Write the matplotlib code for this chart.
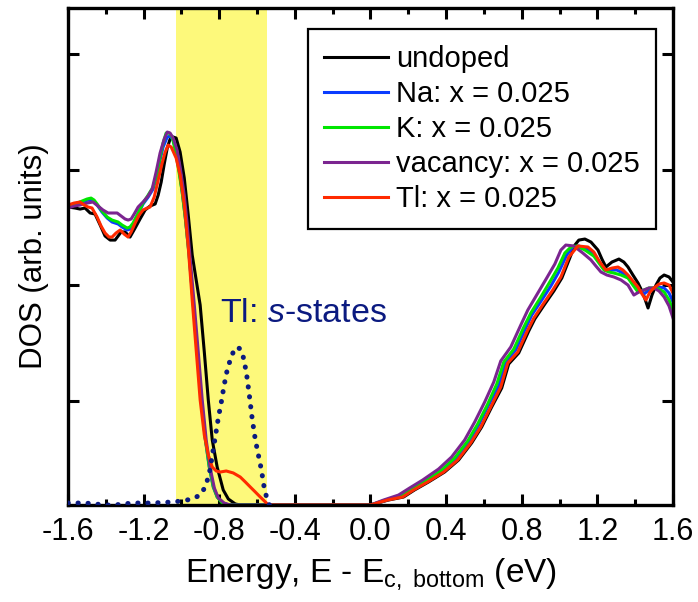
import numpy as np
import matplotlib
matplotlib.use("Agg")
import matplotlib.pyplot as plt
from matplotlib.ticker import MultipleLocator

plt.rcParams['font.family'] = ['Liberation Sans', 'DejaVu Sans']
plt.rcParams['mathtext.fontset'] = 'custom'
plt.rcParams['mathtext.rm'] = 'Liberation Sans'
plt.rcParams['mathtext.it'] = 'Liberation Sans:italic'

# valence band edge + conduction band, energy relative to E_c,bottom (eV)
e_undoped = [-1.600, -1.563, -1.536, -1.510, -1.483, -1.457, -1.430, -1.404, -1.377, -1.351,
             -1.335, -1.319, -1.298, -1.272, -1.245, -1.219, -1.192, -1.166, -1.139, -1.123,
             -1.107, -1.091, -1.075, -1.060, -1.044, -1.028, -1.007, -0.985, -0.964, -0.943,
             -0.922, -0.901, -0.879, -0.858, -0.837, -0.811, -0.779, -0.752, -0.715, -0.689,
             0.000, 0.095, 0.175, 0.233, 0.307, 0.392, 0.466, 0.535, 0.588, 0.641,
             0.694, 0.731, 0.784, 0.837, 0.869, 0.922, 0.970, 1.012, 1.054, 1.081,
             1.102, 1.134, 1.166, 1.203, 1.224, 1.245, 1.277, 1.314, 1.340, 1.362,
             1.388, 1.415, 1.441, 1.468, 1.489, 1.510, 1.531, 1.553, 1.579, 1.600]
dos_undoped = [2.576, 2.567, 2.558, 2.567, 2.524, 2.515, 2.420, 2.325, 2.290, 2.290,
               2.325, 2.360, 2.360, 2.316, 2.394, 2.472, 2.550, 2.584, 2.602, 2.679,
               2.792, 2.947, 3.086, 3.163, 3.181, 3.172, 3.051, 2.826, 2.506, 2.161,
               1.945, 1.729, 1.322, 0.908, 0.562, 0.328, 0.130, 0.052, 0.009, 0.000,
               0.000, 0.043, 0.069, 0.130, 0.199, 0.285, 0.389, 0.536, 0.674, 0.847,
               1.011, 1.219, 1.314, 1.504, 1.608, 1.737, 1.850, 1.962, 2.135, 2.247,
               2.290, 2.299, 2.273, 2.204, 2.126, 2.057, 2.100, 2.126, 2.100, 2.057,
               1.988, 1.919, 1.832, 1.703, 1.815, 1.901, 1.962, 1.988, 1.971, 1.927]

e_na = [-1.600, -1.563, -1.526, -1.494, -1.468, -1.446, -1.420, -1.393, -1.367, -1.335,
        -1.314, -1.287, -1.272, -1.250, -1.224, -1.203, -1.176, -1.150, -1.128, -1.113,
        -1.097, -1.075, -1.060, -1.044, -1.028, -1.012, -0.996, -0.980, -0.959, -0.938,
        -0.917, -0.895, -0.874, -0.853, -0.832, -0.811, -0.779, -0.747,
        0.000, 0.085, 0.164, 0.223, 0.297, 0.381, 0.450, 0.519, 0.572, 0.625,
        0.678, 0.715, 0.768, 0.821, 0.853, 0.906, 0.954, 0.996, 1.038, 1.070,
        1.102, 1.144, 1.181, 1.213, 1.240, 1.272, 1.303, 1.335, 1.362, 1.388,
        1.415, 1.446, 1.473, 1.499, 1.526, 1.553, 1.579, 1.600]
dos_na = [2.576, 2.593, 2.619, 2.636, 2.627, 2.593, 2.532, 2.481, 2.446, 2.429,
          2.403, 2.377, 2.385, 2.437, 2.532, 2.602, 2.662, 2.731, 2.852, 2.982,
          3.094, 3.181, 3.189, 3.155, 3.051, 2.895, 2.705, 2.489, 2.152, 1.746,
          1.331, 0.916, 0.570, 0.328, 0.156, 0.069, 0.017, 0.000,
          0.000, 0.043, 0.078, 0.130, 0.207, 0.294, 0.398, 0.545, 0.691, 0.864,
          1.029, 1.236, 1.340, 1.530, 1.642, 1.772, 1.893, 2.014, 2.161, 2.230,
          2.239, 2.213, 2.169, 2.092, 2.031, 2.031, 2.031, 2.005, 1.971, 1.919,
          1.858, 1.824, 1.858, 1.876, 1.884, 1.876, 1.832, 1.755]

e_k = [-1.600, -1.563, -1.526, -1.499, -1.478, -1.462, -1.446, -1.420, -1.393, -1.367,
       -1.335, -1.314, -1.287, -1.272, -1.256, -1.229, -1.203, -1.176, -1.150, -1.128,
       -1.113, -1.097, -1.081, -1.065, -1.049, -1.033, -1.017, -0.996, -0.980, -0.959,
       -0.938, -0.917, -0.895, -0.874, -0.853, -0.832, -0.811, -0.784, -0.752,
       0.000, 0.080, 0.159, 0.217, 0.291, 0.376, 0.445, 0.514, 0.567, 0.620,
       0.668, 0.705, 0.758, 0.811, 0.848, 0.901, 0.948, 0.991, 1.028, 1.060,
       1.091, 1.134, 1.181, 1.208, 1.235, 1.261, 1.287, 1.325, 1.362, 1.388,
       1.415, 1.446, 1.473, 1.499, 1.526, 1.553, 1.579, 1.600]
dos_k = [2.584, 2.602, 2.627, 2.645, 2.653, 2.636, 2.602, 2.541, 2.489, 2.463,
         2.446, 2.420, 2.394, 2.403, 2.437, 2.524, 2.610, 2.679, 2.749, 2.878,
         3.008, 3.129, 3.215, 3.215, 3.181, 3.068, 2.921, 2.705, 2.489, 2.161,
         1.755, 1.340, 0.925, 0.579, 0.337, 0.164, 0.069, 0.017, 0.000,
         0.000, 0.043, 0.078, 0.138, 0.207, 0.303, 0.406, 0.553, 0.700, 0.873,
         1.046, 1.236, 1.348, 1.538, 1.659, 1.798, 1.927, 2.048, 2.178, 2.230,
         2.239, 2.204, 2.152, 2.092, 2.031, 2.014, 2.005, 1.988, 1.962, 1.901,
         1.841, 1.858, 1.876, 1.876, 1.867, 1.841, 1.772, 1.685]

e_vac = [-1.600, -1.568, -1.536, -1.499, -1.468, -1.441, -1.415, -1.388, -1.362, -1.340,
         -1.319, -1.298, -1.282, -1.266, -1.250, -1.229, -1.203, -1.176, -1.155, -1.134,
         -1.113, -1.091, -1.075, -1.060, -1.044, -1.023, -1.007, -0.985, -0.970, -0.954,
         -0.932, -0.911, -0.890, -0.869, -0.848, -0.826, -0.805, -0.774, -0.742,
         0.000, 0.069, 0.148, 0.207, 0.276, 0.360, 0.429, 0.498, 0.551, 0.604,
         0.652, 0.689, 0.742, 0.795, 0.832, 0.885, 0.932, 0.975, 1.007, 1.033,
         1.075, 1.123, 1.166, 1.192, 1.219, 1.250, 1.287, 1.325, 1.362, 1.393,
         1.420, 1.446, 1.473, 1.499, 1.526, 1.553, 1.579, 1.600]
dos_vac = [2.567, 2.584, 2.593, 2.610, 2.619, 2.584, 2.550, 2.524, 2.524, 2.524,
           2.498, 2.472, 2.463, 2.472, 2.515, 2.576, 2.619, 2.671, 2.731, 2.878,
           3.042, 3.163, 3.224, 3.215, 3.172, 3.068, 2.921, 2.679, 2.437, 2.135,
           1.729, 1.322, 0.908, 0.562, 0.320, 0.147, 0.061, 0.017, 0.000,
           0.000, 0.043, 0.086, 0.147, 0.216, 0.311, 0.415, 0.562, 0.717, 0.890,
           1.063, 1.245, 1.366, 1.556, 1.685, 1.832, 1.962, 2.083, 2.204, 2.247,
           2.239, 2.178, 2.118, 2.066, 2.014, 1.988, 1.971, 1.945, 1.901, 1.815,
           1.841, 1.858, 1.876, 1.876, 1.850, 1.798, 1.720, 1.616]

e_tl = [-1.600, -1.568, -1.536, -1.515, -1.494, -1.473, -1.446, -1.425, -1.404, -1.383,
        -1.367, -1.346, -1.324, -1.303, -1.282, -1.266, -1.245, -1.224, -1.203, -1.181,
        -1.166, -1.144, -1.123, -1.102, -1.086, -1.070, -1.054, -1.028, -1.007, -0.985,
        -0.964, -0.943, -0.922, -0.901, -0.879, -0.858, -0.837, -0.816, -0.795, -0.763,
        -0.726, -0.689, -0.662, -0.636, -0.609, -0.583, -0.556, -0.540,
        0.000, 0.090, 0.170, 0.228, 0.302, 0.387, 0.461, 0.530, 0.583, 0.636,
        0.689, 0.726, 0.779, 0.832, 0.864, 0.917, 0.964, 1.007, 1.049, 1.097,
        1.150, 1.181, 1.213, 1.245, 1.277, 1.309, 1.335, 1.362, 1.388, 1.415,
        1.436, 1.457, 1.478, 1.499, 1.526, 1.553, 1.579, 1.600]
dos_tl = [2.593, 2.610, 2.619, 2.593, 2.576, 2.567, 2.489, 2.411, 2.351, 2.316,
          2.316, 2.351, 2.377, 2.342, 2.316, 2.360, 2.437, 2.506, 2.550, 2.567,
          2.576, 2.662, 2.809, 2.956, 3.051, 3.111, 3.094, 2.999, 2.852, 2.593,
          2.230, 1.772, 1.340, 0.908, 0.605, 0.432, 0.328, 0.294, 0.285, 0.294,
          0.277, 0.242, 0.199, 0.156, 0.112, 0.069, 0.026, 0.000,
          0.000, 0.043, 0.069, 0.130, 0.199, 0.285, 0.389, 0.536, 0.674, 0.847,
          1.020, 1.227, 1.322, 1.513, 1.616, 1.746, 1.858, 1.971, 2.143, 2.239,
          2.230, 2.187, 2.100, 2.031, 2.048, 2.057, 2.031, 1.988, 1.936, 1.884,
          1.824, 1.772, 1.841, 1.876, 1.910, 1.919, 1.901, 1.832]

# Tl s-state projected DOS
e_s = [-1.600, -1.510, -1.457, -1.404, -1.351, -1.309, -1.256, -1.155, -1.049, -0.996,
       -0.943, -0.901, -0.874, -0.853, -0.837, -0.821, -0.805, -0.789, -0.774, -0.758,
       -0.742, -0.726, -0.705, -0.689, -0.673, -0.657, -0.641, -0.625, -0.609, -0.593,
       -0.577, -0.562, -0.546, -0.535]
dos_s = [0.017, 0.017, 0.009, 0.000, 0.000, 0.009, 0.017, 0.017, 0.026, 0.035,
         0.052, 0.086, 0.156, 0.268, 0.424, 0.588, 0.752, 0.890, 1.037, 1.167,
         1.253, 1.322, 1.366, 1.348, 1.279, 1.150, 0.951, 0.735, 0.562, 0.432,
         0.303, 0.147, 0.043, 0.000]

series = [
    (e_undoped, dos_undoped, 'black', 'undoped'),
    (e_na, dos_na, '#0a3cff', 'Na: x = 0.025'),
    (e_k, dos_k, '#00e600', 'K: x = 0.025'),
    (e_vac, dos_vac, '#7b2590', 'vacancy: x = 0.025'),
    (e_tl, dos_tl, '#ff2a00', 'Tl: x = 0.025'),
]

fig = plt.figure(figsize=(6.98, 6.02), dpi=100)
ax = fig.add_axes([68 / 698, 1 - 505 / 602, 605 / 698, 497 / 602])

ax.axvspan(-1.03, -0.55, color='#fdf97b', lw=0, zorder=0)

for e, d, c, name in series:
    ax.plot(e, d, color=c, lw=2.2, label=name)
ax.plot(e_s, dos_s, color='#0b1a80', lw=3.6, linestyle=(0, (0.05, 1.95)),
        dash_capstyle='round', zorder=5)

ax.text(-0.795, 1.585, r'Tl: $\it{s}$-states', color='#0b1a80', fontsize=24.5,
        ha='left', va='baseline')

ax.set_xlim(-1.6, 1.6)
ax.set_ylim(0, 4.296)
ax.xaxis.set_minor_locator(MultipleLocator(0.2))
ax.set_xticks(np.arange(-1.6, 1.61, 0.4))
ax.set_xticklabels(['-1.6', '-1.2', '-0.8', '-0.4', '0.0', '0.4', '0.8', '1.2', '1.6'])
ax.set_yticks([0.9, 1.9, 2.9, 3.9])
ax.set_yticklabels([])
ax.tick_params(which='both', direction='in', top=True, right=True, width=2.2)
ax.tick_params(which='major', length=8, labelsize=22, pad=9)
ax.tick_params(which='minor', length=4)
for s in ax.spines.values():
    s.set_linewidth(2.4)

ax.set_xlabel(r'Energy, E - E$_{\mathrm{c,\ bottom}}$ (eV)', fontsize=24, labelpad=6)
ax.set_ylabel('DOS (arb. units)', fontsize=22.5, labelpad=5)

leg = ax.legend(loc='upper right', bbox_to_anchor=(0.972, 0.958), borderaxespad=0,
                fontsize=21, handlelength=2.2, handletextpad=0.27, labelspacing=0.24,
                borderpad=0.55, fancybox=False, framealpha=1, edgecolor='black')
leg.get_frame().set_linewidth(1.6)

fig.savefig('out.png', dpi=100)
